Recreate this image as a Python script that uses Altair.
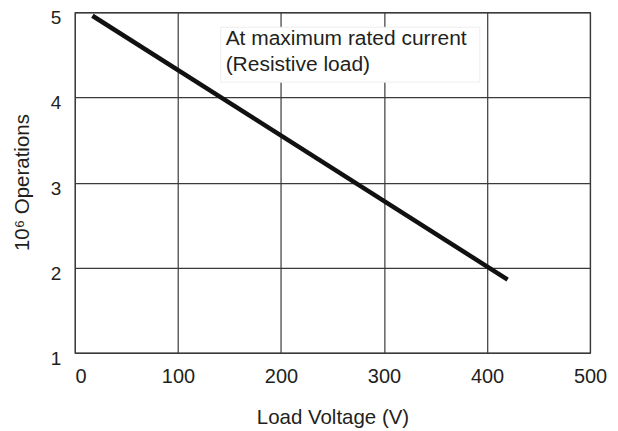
import altair as alt
import pandas as pd

# Data
voltage = [17, 420]
operations = [4.96, 1.86]
note_lines = ["At maximum rated current", "(Resistive load)"]

x_ticks = [0, 100, 200, 300, 400, 500]
y_ticks = [1, 2, 3, 4, 5]

df = pd.DataFrame({"voltage": voltage, "operations": operations})

FONT = "Liberation Sans"
TXT = "#231f20"
GRID = "#3a3a3a"

x_enc = alt.X(
    "voltage:Q",
    scale=alt.Scale(domain=[0, 500], nice=False),
    axis=alt.Axis(
        title="Load Voltage (V)",
        values=x_ticks,
        format="d",
        grid=True,
        ticks=False,
        domain=False,
        labelFlush=False,
        labelAlign=alt.expr("datum.value == 0 ? 'left' : 'center'"),
        labelPadding=14,
        labelFontSize=20,
        titleFontSize=20.5,
        titleFontWeight="normal",
        titleY=71,
        titleBaseline="alphabetic",
    ),
)
y_enc = alt.Y(
    "operations:Q",
    scale=alt.Scale(domain=[1, 5], nice=False, zero=False),
    axis=alt.Axis(
        title="10⁶ Operations",
        values=y_ticks,
        format="d",
        grid=True,
        ticks=False,
        domain=False,
        labelFlush=False,
        labelPadding=14,
        labelOffset=5.5,
        labelFontSize=19,
        titleFontSize=20.5,
        titleFontWeight="normal",
        titleX=-52,
        titleY=170,
        titleAlign="center",
        titleBaseline="middle",
        titleAngle=270,
    ),
)

line = alt.Chart(df).mark_line(color="#111111", strokeWidth=4.5, strokeCap="butt").encode(
    x=x_enc, y=y_enc
)

box = alt.Chart(pd.DataFrame({"a": [0]})).mark_rect(
    fill="white", stroke="#eeeeee", strokeWidth=1
).encode(
    x=alt.datum(141.5),
    x2=alt.datum(393),
    y=alt.datum(4.825),
    y2=alt.datum(4.18),
)

note = alt.Chart(pd.DataFrame({"t": ["\n".join(note_lines)]})).mark_text(
    align="left",
    baseline="alphabetic",
    fontSize=21,
    font=FONT,
    color=TXT,
    lineBreak="\n",
    lineHeight=25.7,
).encode(
    x=alt.value(151),
    y=alt.value(33),
    text="t:N",
)

chart = (
    alt.layer(line, box, note)
    .properties(
        width=516,
        height=341,
        autosize=alt.AutoSizeParams(type="none"),
        padding={"left": 67, "top": 4, "right": 20, "bottom": 78},
        background="white",
    )
    .configure_view(stroke=GRID, strokeWidth=1.2)
    .configure_axis(
        gridColor=GRID,
        gridOpacity=1,
        gridWidth=1.2,
        labelColor=TXT,
        titleColor=TXT,
        labelFont=FONT,
        titleFont=FONT,
    )
)

chart.save("out.html", embed_options={"renderer": "svg", "actions": False})
